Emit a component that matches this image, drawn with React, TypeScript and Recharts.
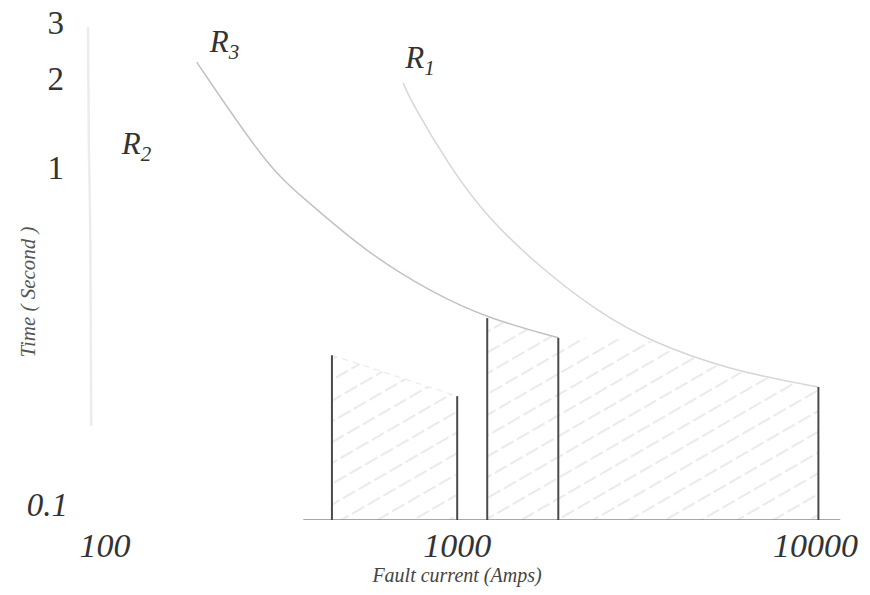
import React from 'react';
import { ComposedChart, Line, Area, XAxis, YAxis } from 'recharts';

const xTicks = [100, 1000, 10000];
const yTicks = [0.1, 1, 2, 3];

// relay characteristics (fault current in A, operating time in s)
const r1 = [
  { current: 709, time: 1.98 },
  { current: 741, time: 1.76 },
  { current: 956, time: 1.11 },
  { current: 1211, time: 0.79 },
  { current: 1698, time: 0.56 },
  { current: 2490, time: 0.41 },
  { current: 3360, time: 0.342 },
  { current: 5596, time: 0.279 },
  { current: 10000, time: 0.248 },
];
const r2 = [
  { current: 95, time: 2.9 },
  { current: 95.5, time: 1.4 },
  { current: 96.5, time: 0.6 },
  { current: 97, time: 0.19 },
];
const r3 = [
  { current: 190, time: 2.28 },
  { current: 298, time: 1.12 },
  { current: 367, time: 0.92 },
  { current: 563, time: 0.619 },
  { current: 858, time: 0.471 },
  { current: 1211, time: 0.397 },
  { current: 1905, time: 0.347 },
];

// vertical limits of each protected section
const limits = [
  { current: 450, time: 0.308 },
  { current: 1000, time: 0.233 },
  { current: 1211, time: 0.397 },
  { current: 1905, time: 0.347 },
  { current: 10000, time: 0.248 },
];

// hatched zones
const zoneA = [
  { current: 450, time: 0.308 },
  { current: 1000, time: 0.233 },
];
const zoneB = [
  { current: 1211, time: 0.397 },
  { current: 1905, time: 0.347 },
];
const zoneC = [
  { current: 1905, time: 0.347 },
  { current: 3360, time: 0.342 },
  { current: 5596, time: 0.279 },
  { current: 10000, time: 0.248 },
];

const baseLine = [
  { current: 375, time: 0.1 },
  { current: 11500, time: 0.1 },
];

const SERIF = '"Liberation Serif", "Times New Roman", serif';

const XTick = (props: any) => {
  const { x, y, payload } = props;
  const v = payload.value;
  const nudge = v === 100 ? 9 : v === 10000 ? -3 : 0;
  return (
    <text x={x + nudge} y={y + 29} textAnchor="middle" fontFamily={SERIF}
      fontStyle="italic" fontSize={34} fill="#333">
      {v}
    </text>
  );
};

const YTick = (props: any) => {
  const { x, y, payload } = props;
  const v = payload.value;
  const nudge = v === 0.1 ? -16 : v === 1 ? -15 : v === 2 ? -3 : 0;
  return (
    <text x={x + (v === 0.1 ? 15 : 11)} y={y + nudge} dy="0.35em" textAnchor="end" fontFamily={SERIF}
      fontStyle={v === 0.1 ? 'italic' : 'normal'} fontSize={33} fill="#333">
      {v}
    </text>
  );
};

const curveLabel = (sub: string, at: number, dx: number, dy: number) => (props: any) => {
  const { x, y, index } = props;
  if (index !== at) return null;
  return (
    <text x={x + dx} y={y + dy} fontFamily={SERIF} fontStyle="italic" fill="#333">
      <tspan fontSize={31}>R</tspan>
      <tspan fontSize={21} dy={7}>{sub}</tspan>
    </text>
  );
};

const App: React.FC = () => {
  return (
    <div style={{ width: 870, height: 595, background: '#fff' }}>
      <style>{'body { margin: 0; }'}</style>
      <ComposedChart width={870} height={595} margin={{ top: 22, right: 23, left: 0, bottom: 15 }}>
        <defs>
          <pattern id="hatch" patternUnits="userSpaceOnUse" width="18" height="18"
            patternTransform="rotate(-30)">
            <line x1="0" y1="9" x2="18" y2="9" stroke="#d6d6d6" strokeWidth={1.2} strokeDasharray="8 4" />
          </pattern>
        </defs>
        <XAxis
          dataKey="current"
          type="number"
          scale="log"
          domain={[80, 12000]}
          ticks={xTicks}
          allowDataOverflow
          height={60}
          axisLine={false}
          tickLine={false}
          tick={<XTick />}
          label={(props: any) => {
            const vb = props.viewBox;
            return (
              <text x={vb.x + vb.width / 2 + 3} y={vb.y + 62} textAnchor="middle" fontFamily={SERIF}
                fontStyle="italic" fontSize={20} fill="#444">
                Fault current (Amps)
              </text>
            );
          }}
        />
        <YAxis
          dataKey="time"
          type="number"
          scale="log"
          domain={[0.1, 3]}
          ticks={yTicks}
          allowDataOverflow
          width={61}
          axisLine={false}
          tickLine={false}
          tick={<YTick />}
          label={() => {
            return (
              <text x={35} y={292} textAnchor="middle" fontFamily={SERIF} fontStyle="italic"
                fontSize={21} fill="#555" transform="rotate(-90 35 292)">
                Time ( Second )
              </text>
            );
          }}
        />
        <Area data={zoneA} dataKey="time" type="linear" stroke="none" fill="url(#hatch)" fillOpacity={1}
          baseValue="dataMin" isAnimationActive={false} dot={false} activeDot={false} />
        <Area data={zoneB} dataKey="time" type="linear" stroke="none" fill="url(#hatch)" fillOpacity={1}
          baseValue="dataMin" isAnimationActive={false} dot={false} activeDot={false} />
        <Area data={zoneC} dataKey="time" type="linear" stroke="none" fill="url(#hatch)" fillOpacity={1}
          baseValue="dataMin" isAnimationActive={false} dot={false} activeDot={false} />
        <Line data={zoneA} dataKey="time" type="linear" stroke="#e8e8e8" strokeWidth={1}
          strokeDasharray="6 5" dot={false} activeDot={false} isAnimationActive={false} />
        <Line data={r2} dataKey="time" type="monotone" stroke="#ececec" strokeWidth={2.5}
          dot={false} activeDot={false} isAnimationActive={false}
          label={curveLabel('2', 1, 33, 20)} />
        <Line data={r3} dataKey="time" type="basis" stroke="#c2c2c2" strokeWidth={1.5}
          dot={false} activeDot={false} isAnimationActive={false}
          label={curveLabel('3', 0, 13, -10)} />
        <Line data={r1} dataKey="time" type="basis" stroke="#d6d6d6" strokeWidth={1.5}
          dot={false} activeDot={false} isAnimationActive={false}
          label={curveLabel('1', 0, 2, -15)} />
        <Line data={baseLine} dataKey="time" type="linear" stroke="#8a8a8a" strokeWidth={1.5}
          dot={false} activeDot={false} isAnimationActive={false} />
        {limits.map((l, i) => (
          <Line key={i} data={[{ current: l.current, time: 0.1 }, l]} dataKey="time" type="linear"
            stroke="#4a4a4a" strokeWidth={2} dot={false} activeDot={false} isAnimationActive={false} />
        ))}
      </ComposedChart>
    </div>
  );
};

export default App;
